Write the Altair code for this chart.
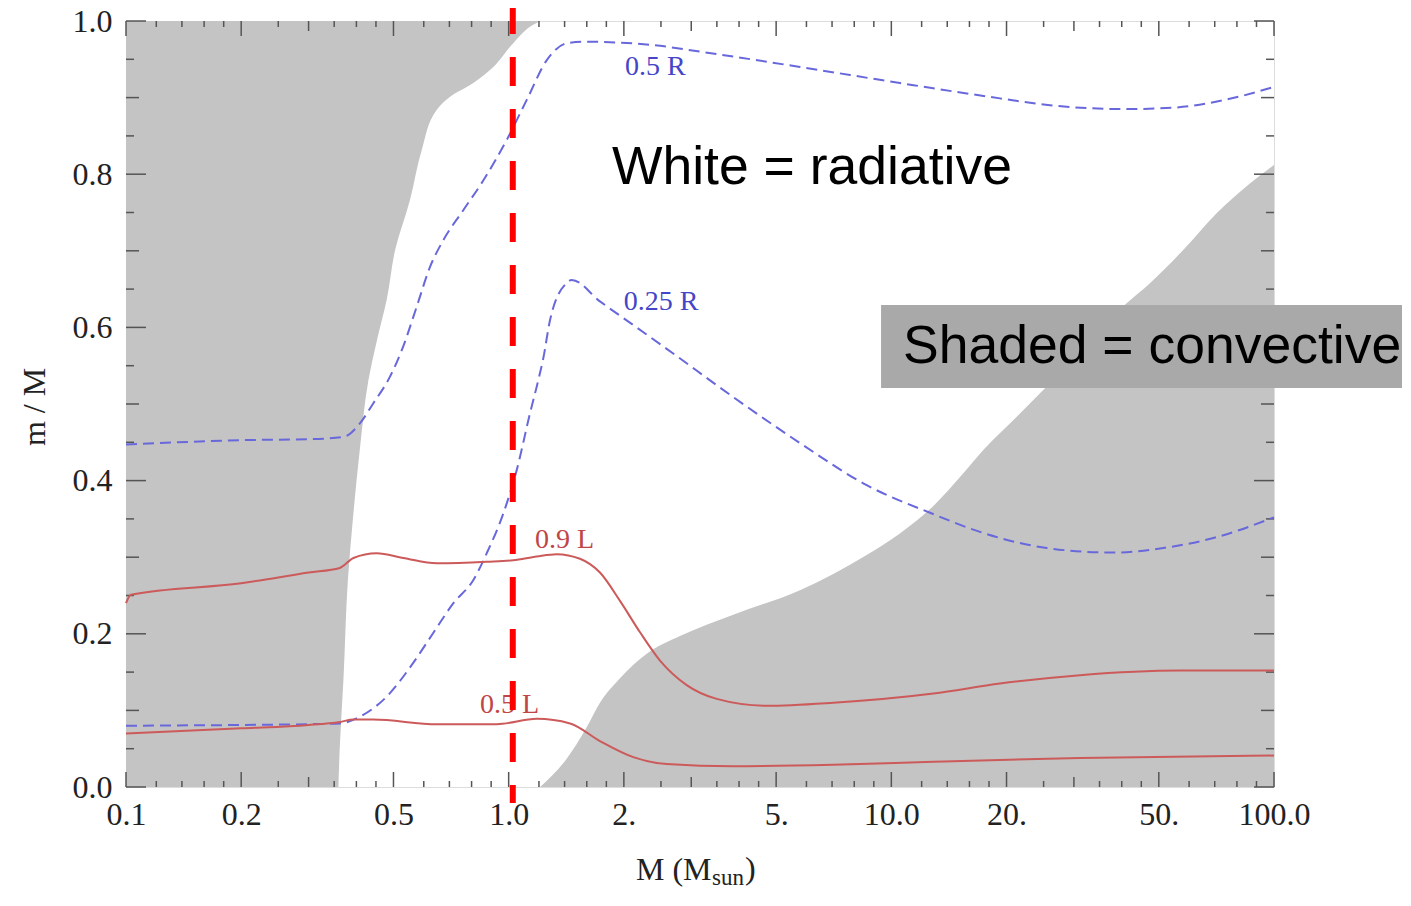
import altair as alt
import pandas as pd

# ---------------- data ----------------
# convective envelope boundary (left shaded region): star mass vs m/M
ENV_Q = [0.0, 0.053, 0.140, 0.270, 0.358, 0.444, 0.531, 0.584, 0.636, 0.701,
         0.766, 0.832, 0.884, 0.901, 0.919, 0.940, 0.971, 0.995, 1.0]
ENV_M = [0.359, 0.362, 0.370, 0.380, 0.393, 0.409, 0.430, 0.453, 0.480, 0.505,
         0.552, 0.593, 0.649, 0.703, 0.808, 0.912, 1.028, 1.159, 1.208]

# convective core boundary (right shaded region)
CORE_M = [1.208, 1.418, 1.599, 1.732, 1.954, 2.295, 2.803, 3.864, 5.772, 8.622,
          10.53, 12.88, 15.42, 17.39, 21.27, 25.97, 41.2, 47.4, 57.9, 70.8, 86.5, 100]
CORE_Q = [0.0, 0.037, 0.078, 0.110, 0.142, 0.174, 0.197, 0.225, 0.257, 0.303,
          0.331, 0.367, 0.4095, 0.440, 0.4834, 0.527, 0.6315, 0.6576, 0.701, 0.749,
          0.788, 0.812]

# 0.5 R curve
R50_M = [0.1, 0.211, 0.3, 0.370, 0.409, 0.443, 0.490, 0.530, 0.575, 0.623, 0.675,
         0.761, 0.859, 0.989, 1.115, 1.258, 1.418, 1.567, 2.341, 3.162, 5.772, 10.53,
         19.23, 25.97, 40.8, 55.1, 74.5, 100]
R50_Q = [0.447, 0.453, 0.454, 0.457, 0.475, 0.501, 0.536, 0.575, 0.627, 0.679, 0.714,
         0.753, 0.792, 0.845, 0.897, 0.949, 0.971, 0.973, 0.969, 0.960, 0.940, 0.919,
         0.899, 0.890, 0.885, 0.887, 0.897, 0.914]

# 0.25 R curve
R25_M = [0.1, 0.2, 0.3, 0.362, 0.409, 0.480, 0.563, 0.635, 0.717, 0.808, 0.876, 0.968,
         1.050, 1.137, 1.195, 1.232, 1.282, 1.418, 1.461, 1.732, 2.117, 2.588, 3.864,
         5.772, 8.622, 12.62, 17.05, 25.47, 38.02, 51.37, 69.4, 100]
R25_Q = [0.080, 0.081, 0.082, 0.083, 0.092, 0.118, 0.162, 0.201, 0.240, 0.270, 0.305,
         0.357, 0.414, 0.488, 0.531, 0.560, 0.609, 0.658, 0.662, 0.634, 0.603, 0.572,
         0.509, 0.449, 0.394, 0.358, 0.333, 0.312, 0.306, 0.312, 0.325, 0.352]

# 0.9 L curve
L90_M = [0.1, 0.103, 0.2, 0.3, 0.362, 0.393, 0.452, 0.530, 0.649, 0.876, 1.028, 1.184,
         1.335, 1.536, 1.732, 1.954, 2.204, 2.486, 2.919, 3.497, 4.724, 7.052, 12.88,
         19.23, 31.12, 56.8, 100]
L90_Q = [0.240, 0.251, 0.266, 0.280, 0.286, 0.299, 0.305, 0.299, 0.292, 0.294, 0.296,
         0.301, 0.304, 0.298, 0.280, 0.243, 0.202, 0.165, 0.133, 0.115, 0.106, 0.110,
         0.122, 0.135, 0.146, 0.152, 0.152]

# 0.5 L curve
L50_M = [0.1, 0.2, 0.3, 0.362, 0.393, 0.443, 0.649, 0.931, 1.184, 1.447, 1.732, 2.117,
         2.588, 3.864, 7.052, 12.88, 31.12, 100]
L50_Q = [0.070, 0.0766, 0.081, 0.085, 0.088, 0.088, 0.082, 0.082, 0.089, 0.083, 0.060,
         0.039, 0.030, 0.027, 0.029, 0.033, 0.038, 0.041]

# curve labels
LABEL_TEXT = ["0.5 R", "0.25 R", "0.9 L", "0.5 L"]
LABEL_M = [2.014, 2.0, 1.172, 0.8415]
LABEL_Q = [0.94, 0.633, 0.3225, 0.107]
LABEL_COLOR = ["#4545c8", "#4545c8", "#c04545", "#c04545"]

# axis ticks and labels
X_TICKS = [0.1, 0.2, 0.5, 1, 2, 5, 10, 20, 50, 100]
X_LABELS = ["0.1", "0.2", "0.5", "1.0", "2.", "5.", "10.0", "20.", "50.", "100.0"]
X_MID = [0.3, 3, 30]
X_MINOR = [0.12, 0.14, 0.16, 0.18, 0.25, 0.35, 0.4, 0.45, 0.6, 0.7, 0.8, 0.9,
           1.2, 1.4, 1.6, 1.8, 2.5, 3.5, 4, 4.5, 6, 7, 8, 9,
           12, 14, 16, 18, 25, 35, 40, 45, 60, 70, 80, 90]
Y_TICKS = [0.0, 0.2, 0.4, 0.6, 0.8, 1.0]
Y_MID = [0.1, 0.3, 0.5, 0.7, 0.9]
Y_MINOR = [0.05, 0.15, 0.25, 0.35, 0.45, 0.55, 0.65, 0.75, 0.85, 0.95]

SUN_MASS_LINE = [1.025]

# annotation box / texts (data coordinates)
BOX_M = [9.40, 228.0]
BOX_Q = [0.6292, 0.5209]
ANN_TEXT = ["White = radiative", "Shaded = convective"]
ANN_M = [1.862, 10.73]
ANN_Q = [0.808, 0.574]

# ---------------- chart ----------------
W, H = 1148, 766
X_SCALE = alt.Scale(type="log", domain=[0.1, 100], nice=False)
Y_SCALE = alt.Scale(domain=[0, 1], nice=False, zero=False)

label_map = "{" + ",".join(f"'{k}':'{v}'" for k, v in zip(X_TICKS, X_LABELS)) + "}"
X_AXIS = alt.Axis(values=X_TICKS, labelExpr=f"{label_map}[toString(datum.value)]",
                  ticks=False, domain=False, grid=False, title=None,
                  labelFont="Liberation Serif", labelFontSize=32, labelColor="#222",
                  labelPadding=12, labelFlush=False, labelOverlap=False)
Y_AXIS = alt.Axis(values=Y_TICKS, format=".1f", ticks=False, domain=False, grid=False,
                  title=None, labelFont="Liberation Serif", labelFontSize=32,
                  labelColor="#222", labelPadding=14, labelOverlap=False)


def X(f):
    return alt.X(f, type="quantitative", scale=X_SCALE, axis=X_AXIS)


def Y(f):
    return alt.Y(f, type="quantitative", scale=Y_SCALE, axis=Y_AXIS)


GRAY = "#c4c4c4"

env_df = pd.DataFrame({"m": ENV_M, "q": ENV_Q, "m0": [0.1] * len(ENV_M)})
env = alt.Chart(env_df).mark_area(orient="horizontal", interpolate="monotone",
                                  color=GRAY).encode(
    y=Y("q"), x=X("m"), x2="m0")

core_df = pd.DataFrame({"m": CORE_M, "q": CORE_Q, "q0": [0.0] * len(CORE_M)})
core = alt.Chart(core_df).mark_area(interpolate="monotone", color=GRAY).encode(
    x=X("m"), y=Y("q"), y2="q0")

BLUE = "#6868dc"
RED = "#cc5a5a"


def curve(ms, qs, color, dash=None):
    df = pd.DataFrame({"m": ms, "q": qs})
    kw = dict(interpolate="monotone", color=color, strokeWidth=2)
    if dash:
        kw["strokeDash"] = dash
    return alt.Chart(df).mark_line(**kw).encode(x=X("m"), y=Y("q"))


r50 = curve(R50_M, R50_Q, BLUE, [11, 6])
r25 = curve(R25_M, R25_Q, BLUE, [11, 6])
l90 = curve(L90_M, L90_Q, RED)
l50 = curve(L50_M, L50_Q, RED)

lab_df = pd.DataFrame({"t": LABEL_TEXT, "m": LABEL_M, "q": LABEL_Q, "c": LABEL_COLOR})
labels = alt.Chart(lab_df).mark_text(align="left", baseline="middle",
                                     font="Liberation Serif", fontSize=28).encode(
    x=X("m"), y=Y("q"), text="t", color=alt.Color("c", scale=None))

# ticks (inward, on all four sides)
tick_layers = []
x_tick_sets = [(X_TICKS, 15), (X_MID, 10), (X_MINOR, 6)]
y_tick_sets = [(Y_TICKS, 20), (Y_MID, 13), (Y_MINOR, 8)]
TICK_COLOR = "#555555"
for vals, ln in x_tick_sets:
    df = pd.DataFrame({"m": vals})
    base = alt.Chart(df).mark_rule(color=TICK_COLOR, strokeWidth=1.5)
    tick_layers.append(base.encode(x=X("m"), y=alt.value(H), y2=alt.value(H - ln)))
    tick_layers.append(base.encode(x=X("m"), y=alt.value(0), y2=alt.value(ln)))
for vals, ln in y_tick_sets:
    df = pd.DataFrame({"q": vals})
    base = alt.Chart(df).mark_rule(color=TICK_COLOR, strokeWidth=1.5)
    tick_layers.append(base.encode(y=Y("q"), x=alt.value(0), x2=alt.value(ln)))
    tick_layers.append(base.encode(y=Y("q"), x=alt.value(W), x2=alt.value(W - ln)))

sun = alt.Chart(pd.DataFrame({"m": SUN_MASS_LINE})).mark_rule(
    color="#ff0000", strokeWidth=6, strokeDash=[29, 23]).encode(
    x=X("m"), y=alt.value(-16), y2=alt.value(782))

box_df = pd.DataFrame({"m1": [BOX_M[0]], "m2": [BOX_M[1]], "q1": [BOX_Q[0]], "q2": [BOX_Q[1]]})
box = alt.Chart(box_df).mark_rect(color="#a9a9a9").encode(
    x=X("m1"), x2="m2", y=Y("q1"), y2="q2")

ann_df = pd.DataFrame({"t": ANN_TEXT, "m": ANN_M, "q": ANN_Q})
ann = alt.Chart(ann_df).mark_text(align="left", baseline="middle", font="Liberation Sans",
                                  fontSize=53.5, color="#000000").encode(
    x=X("m"), y=Y("q"), text="t")

# axis titles
ytitle = alt.Chart(pd.DataFrame({"t": ["m / M"]})).mark_text(
    angle=270, align="center", baseline="middle", font="Liberation Serif",
    fontSize=32, color="#222").encode(text="t", x=alt.value(-91), y=alt.value(386))
xt1 = alt.Chart(pd.DataFrame({"t": ["M (M"]})).mark_text(
    align="left", baseline="alphabetic", font="Liberation Serif", fontSize=32,
    color="#222").encode(text="t", x=alt.value(510), y=alt.value(859))
xt2 = alt.Chart(pd.DataFrame({"t": ["sun"]})).mark_text(
    align="left", baseline="alphabetic", font="Liberation Serif", fontSize=23,
    color="#222").encode(text="t", x=alt.value(586), y=alt.value(864))
xt3 = alt.Chart(pd.DataFrame({"t": [")"]})).mark_text(
    align="left", baseline="alphabetic", font="Liberation Serif", fontSize=32,
    color="#222").encode(text="t", x=alt.value(619), y=alt.value(858))

chart = alt.layer(
    env, core, *tick_layers, r50, r25, l90, l50, labels, sun, box, ann,
    ytitle, xt1, xt2, xt3
).properties(
    width=W, height=H,
    padding={"left": 118, "top": 13, "right": 128, "bottom": 104},
    autosize=alt.AutoSizeParams(type="none"),
).configure_view(stroke="#555555", strokeWidth=2).configure(background="white")

chart.save("out.html", embed_options={"renderer": "svg", "actions": False})
